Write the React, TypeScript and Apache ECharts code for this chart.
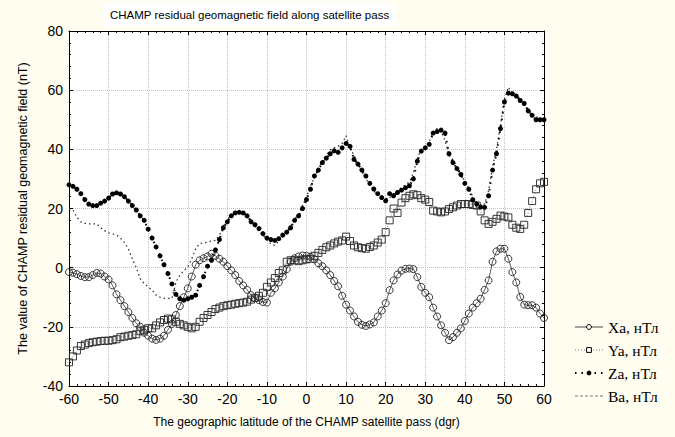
import React, { useEffect, useRef } from "react";
import * as echarts from "echarts";

const latitudes = [
  -60, -59, -58, -57, -56, -55, -54, -53, -52, -51, -50, -49, -48, -47, -46, -45, -44, -43, -42, -41,
  -40, -39, -38, -37, -36, -35, -34, -33, -32, -31, -30, -29, -28, -27, -26, -25, -24, -23, -22, -21,
  -20, -19, -18, -17, -16, -15, -14, -13, -12, -11, -10, -9, -8, -7, -6, -5, -4, -3, -2, -1,
  0, 1, 2, 3, 4, 5, 6, 7, 8, 9, 10, 11, 12, 13, 14, 15, 16, 17, 18, 19,
  20, 21, 22, 23, 24, 25, 26, 27, 28, 29, 30, 31, 32, 33, 34, 35, 36, 37, 38, 39,
  40, 41, 42, 43, 44, 45, 46, 47, 48, 49, 50, 51, 52, 53, 54, 55, 56, 57, 58, 59, 60,
];

const xaValues = [
  -1.5, -1.7, -2.2, -2.8, -3.2, -3.2, -2.5, -1.8, -2.0, -3.0, -4.0, -6.0, -9.0, -11, -13, -15, -17, -18.8, -20, -22,
  -23, -24, -24.4, -24, -23, -21, -19, -16, -13, -10, -7, -3, 1, 2.5, 3.2, 3.8, 4.7, 4, 3, 2,
  0.5, -0.9, -2.5, -4.5, -6, -7.5, -9.3, -10.3, -11, -11.6, -11.8, -8.5, -7, -5, -3, -0.5, 2, 3.2, 3.8, 4.1,
  4, 3.7, 2.8, 1.5, 0.5, -0.9, -2.5, -4.5, -6.3, -9.5, -12.5, -14.5, -16.5, -18.3, -19.3, -19.7, -19.2, -18.5, -16.5, -14.5,
  -12, -7.6, -4.3, -2.3, -1, -0.4, -0.3, -0.5, -3.2, -6.5, -8.5, -10, -13.5, -16.5, -19.5, -22, -24.5, -23.5, -22, -20.5,
  -18, -15.5, -13.5, -12, -10.5, -7.5, -4.3, 2, 5.5, 6.4, 6.4, 3, -1.5, -5, -9.9, -12.5, -12.7, -12.7, -13.5, -15.5, -17,
];

const yaValues = [
  -32, -30, -28, -26.5, -26, -25.5, -25.2, -25, -24.8, -24.7, -24.7, -24.5, -24.2, -23.5, -23.3, -23, -22.8, -22.5, -21.5, -21,
  -20.5, -20.5, -19.5, -18.5, -17.7, -17.2, -17.5, -18.3, -19, -19.5, -20, -20.5, -20, -18.3, -17, -16, -15, -14, -13.5, -13,
  -12.7, -12.5, -12.2, -12, -11.8, -11.5, -10.8, -10.2, -9.5, -8.5, -6.5, -5, -3.5, -1.8, -0.9, 2, 2.5, 2.5, 2.2, 2.5,
  2.8, 3, 4, 5, 6, 6.9, 7.5, 8.2, 8.8, 9.2, 10.5, 9, 7.5, 6.9, 6.6, 6.4, 7, 7.5, 8.5, 9.5,
  12, 16, 20, 18.5, 22, 23.5, 24.3, 24.8, 24.5, 23.5, 23, 22.2, 19.3, 19, 18.7, 19, 19.8, 20.4, 21, 21.5,
  21.5, 21.5, 21.2, 21, 19, 16, 14.8, 15.5, 16.5, 17.6, 17.3, 17, 14.5, 13.5, 13.1, 14.5, 18.5, 22.5, 26.5, 28.5, 29,
];

const zaValues = [
  28, 27.5, 26.5, 25, 23, 21.5, 21, 21, 21.8, 22.5, 23.5, 24.9, 25.3, 24.9, 24, 22.5, 21, 19.5, 17.5, 16,
  13, 10, 7, 4, 1, -2, -5.5, -9, -10.5, -11, -10.5, -10, -9.3, -6, -3, 0.5, 2.5, 6, 9.5, 13.5,
  15.5, 17.5, 18.5, 18.7, 18.5, 17.5, 15.5, 14.5, 13.2, 11.5, 10, 9.5, 9.2, 9.8, 11, 12, 13.5, 16, 17.5, 20,
  23, 26.5, 31, 33, 35.5, 37, 38.5, 39.5, 39, 40.5, 42, 41, 36.6, 35, 33, 31, 28.5, 26.6, 25, 23.7,
  22.6, 25, 24.3, 25.4, 26.2, 27, 27.7, 30, 36, 39.4, 40.5, 41.7, 45.5, 46, 46.5, 45.5, 38.5, 35.5, 33.5, 31.5,
  28.5, 26.5, 23, 21.5, 20.5, 20.4, 24.3, 33, 38.5, 47, 56, 59, 58.8, 58, 56.5, 55.5, 53, 51.5, 50, 50, 50,
];

const baValues = [
  20, 19.5, 17, 15.5, 15, 14.8, 14.8, 14.8, 13.5, 12.5, 11.8, 11.4, 11, 10, 8.5, 6.4, 3, 0, -3.7, -5.4,
  -6.5, -7.6, -9.3, -10, -10.4, -10.4, -10.4, -5, -2.5, -1, 0.2, 3, 6.4, 8.1, 8.4, 8.6, 9, 9.2, 11, 14,
  16, 18, 19, 19, 18.5, 17.8, 16, 14, 12.5, 11, 9.5, 8, 7.5, 9, 10.5, 12.5, 14, 16.5, 18, 21,
  24, 27.5, 30.5, 33.5, 36, 38, 39.8, 40.5, 41, 42, 44.6, 40.5, 38, 34.5, 32.5, 30, 28, 26, 24.5, 23,
  22, 23.5, 25, 26, 27, 28, 29, 32, 37, 40, 41, 42.5, 46, 47, 46, 43, 38, 36.5, 34, 32,
  29, 27, 24, 22, 21, 21.5, 26, 34, 40, 48, 57, 61, 59, 58.5, 57, 55, 53.5, 52, 51, 50.5, 50,
];

const seriesNames = ["Xa, нТл", "Ya, нТл", "Za, нТл", "Ba, нТл"];

const xTicks = { min: -60, max: 60, interval: 10 };
const yTicks = { min: -40, max: 80, interval: 20 };

const toPairs = (vals: number[]) => latitudes.map((lat, i) => [lat, vals[i]]);

export default function App() {
  const ref = useRef<HTMLDivElement>(null);
  useEffect(() => {
    if (!ref.current) return;
    const chart = echarts.init(ref.current, undefined, { renderer: "svg" });
    const axisFont = { fontFamily: "Liberation Sans, Arial, sans-serif", fontSize: 14, color: "#000" };
    const frameLine = { show: true, lineStyle: { color: "#000", width: 1 } };
    const tick = { show: true, inside: true, length: 4, lineStyle: { color: "#000" } };
    const minor = { show: true, splitNumber: 5, length: 2, lineStyle: { color: "#000" } };
    const grid = { show: true, lineStyle: { color: "#c0c0c0", type: "dotted" as const, width: 1 } };
    const hollow = { color: "#ffffff", borderColor: "#000", borderWidth: 1 };
    chart.setOption({
      animation: false,
      backgroundColor: "#fffdf0",
      title: {
        text: "CHAMP residual geomagnetic field along satellite pass",
        left: 104,
        top: 3,
        backgroundColor: "#ffffff",
        padding: [6, 6, 6, 6],
        textStyle: { fontFamily: "Liberation Sans, Arial, sans-serif", fontSize: 11.5, fontWeight: "normal", color: "#000" },
      },
      grid: { left: 69, right: 131, top: 31, bottom: 51, containLabel: false, show: true, backgroundColor: "#ffffff", borderWidth: 0 },
      legend: {
        orient: "vertical",
        left: 569,
        top: 314,
        itemWidth: 28,
        itemHeight: 6,
        itemGap: 7,
        textStyle: { fontFamily: "Liberation Serif, Times New Roman, serif", fontSize: 15.5, color: "#000" },
        data: [
          { name: seriesNames[0], itemStyle: hollow, lineStyle: { width: 1, color: "#444" } },
          { name: seriesNames[1], itemStyle: hollow, lineStyle: { width: 1, color: "#777" } },
          { name: seriesNames[2] },
          { name: seriesNames[3], itemStyle: { opacity: 0 }, lineStyle: { width: 1, color: "#777", type: [3, 2] } },
        ],
      },
      xAxis: [
        {
          type: "value",
          ...xTicks,
          position: "bottom",
          name: "The geographic latitude of the CHAMP satellite pass (dgr)",
          nameLocation: "middle",
          nameGap: 30,
          nameTextStyle: { fontFamily: "Liberation Sans, Arial, sans-serif", fontSize: 12, color: "#000" },
          axisLine: { ...frameLine, onZero: false },
          axisTick: tick,
          minorTick: minor,
          splitLine: grid,
          axisLabel: { ...axisFont, margin: 6 },
        },
        {
          type: "value",
          ...xTicks,
          position: "top",
          axisLine: { ...frameLine, onZero: false },
          axisTick: tick,
          minorTick: minor,
          splitLine: { show: false },
          axisLabel: { show: false },
        },
      ],
      yAxis: [
        {
          type: "value",
          ...yTicks,
          position: "left",
          name: "The value of CHAMP residual geomagnetic field (nT)",
          nameLocation: "middle",
          nameGap: 40,
          nameTextStyle: { fontFamily: "Liberation Sans, Arial, sans-serif", fontSize: 12.5, color: "#000" },
          axisLine: { ...frameLine, onZero: false },
          axisTick: tick,
          minorTick: minor,
          splitLine: grid,
          axisLabel: { ...axisFont, margin: 6 },
        },
        {
          type: "value",
          ...yTicks,
          position: "right",
          axisLine: { ...frameLine, onZero: false },
          axisTick: tick,
          minorTick: minor,
          splitLine: { show: false },
          axisLabel: { show: false },
        },
      ],
      series: [
        {
          name: seriesNames[0],
          type: "line",
          data: toPairs(xaValues),
          symbol: "circle",
          symbolSize: 7,
          itemStyle: { color: "rgba(255,255,255,0)", borderColor: "#222", borderWidth: 0.9 },
          lineStyle: { color: "#333", width: 0.8 },
          z: 4,
        },
        {
          name: seriesNames[1],
          type: "line",
          data: toPairs(yaValues),
          symbol: "rect",
          symbolSize: 7,
          itemStyle: { color: "rgba(255,255,255,0)", borderColor: "#222", borderWidth: 0.9 },
          lineStyle: { color: "#777", width: 0.8, type: [1, 2] },
          z: 3,
        },
        {
          name: seriesNames[2],
          type: "line",
          data: toPairs(zaValues),
          symbol: "circle",
          symbolSize: 5,
          itemStyle: { color: "#000" },
          lineStyle: { color: "#000", width: 2, type: [1.5, 5] },
          z: 5,
        },
        {
          name: seriesNames[3],
          type: "line",
          data: toPairs(baValues),
          showSymbol: false,
          symbol: "none",
          itemStyle: { color: "#444" },
          lineStyle: { color: "#333", width: 1.3, type: [1.5, 3] },
          z: 2,
        },
      ],
    });
    return () => chart.dispose();
  }, []);
  return <div ref={ref} style={{ width: 675, height: 437, position: "absolute", left: 0, top: 0 }} />;
}
